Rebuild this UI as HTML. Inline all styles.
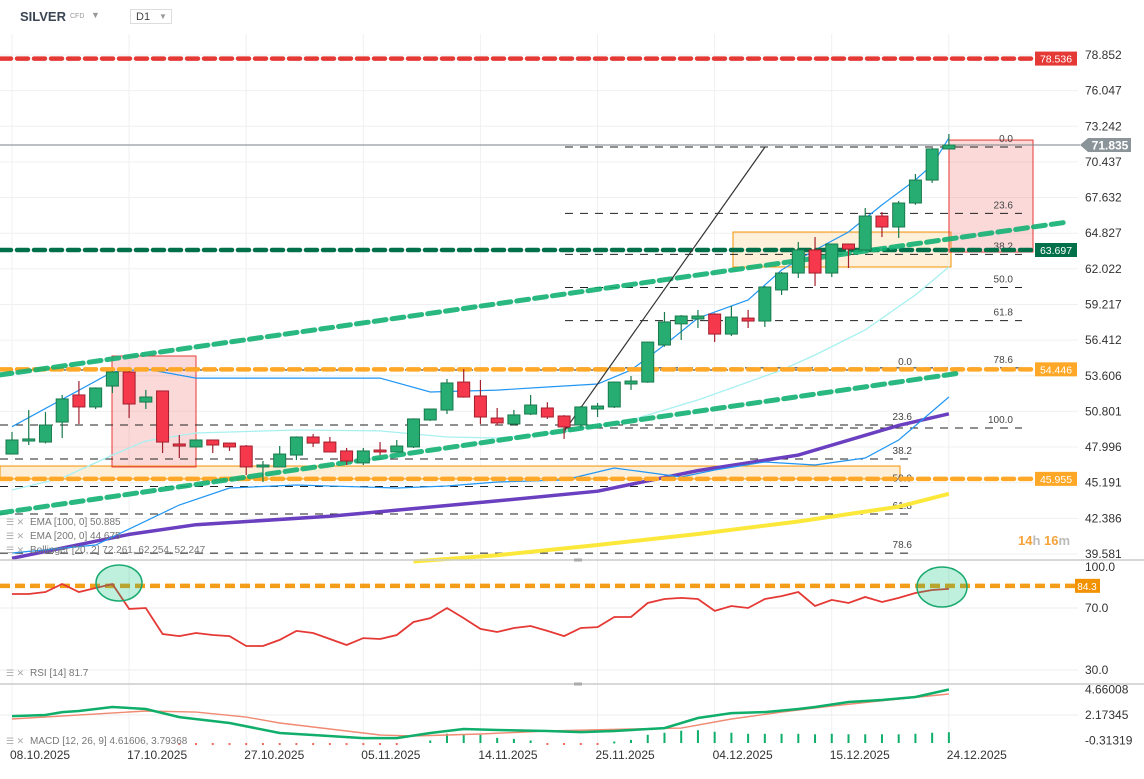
<!DOCTYPE html>
<html><head><meta charset="utf-8">
<style>
html,body{margin:0;padding:0;background:#fff;width:1144px;height:779px;overflow:hidden;font-family:"Liberation Sans",sans-serif}
#hdr{position:absolute;left:0;top:0;width:1144px;height:34px}
svg{position:absolute;left:0;top:0}
</style></head><body>
<div id="hdr">
 <span style="position:absolute;left:20px;top:9px;font-size:13px;font-weight:bold;color:#3a4653">SILVER</span>
 <span style="position:absolute;left:70px;top:13px;font-size:7px;color:#999">CFD</span>
 <span style="position:absolute;left:91px;top:10px;font-size:9px;color:#999">▼</span>
 <div style="position:absolute;left:130px;top:9px;width:42px;height:15px;border:1px solid #ddd;font-size:11px;color:#444;box-sizing:border-box;padding:1px 0 0 5px">D1<span style="position:absolute;left:28px;top:2px;font-size:8px;color:#999">▼</span></div>
</div>
<svg id="chart" width="1144" height="779"></svg>
<script>
// ---- data ----
const dates = ["08.10.2025","17.10.2025","27.10.2025","05.11.2025","14.11.2025","25.11.2025","04.12.2025","15.12.2025","24.12.2025"];
const priceTicks = [78.852,76.047,73.242,70.437,67.632,64.827,62.022,59.217,56.412,53.606,50.801,47.996,45.191,42.386,39.581];
const opens  = [47.88,48.89,48.81,50.36,52.46,51.53,53.15,54.24,51.91,52.77,48.66,48.43,48.97,48.73,48.50,46.88,46.88,47.80,49.20,48.81,48.12,47.19,48.19,48.04,48.43,50.52,51.29,53.46,52.38,50.67,50.21,50.98,51.45,50.83,50.13,51.37,51.53,53.31,53.46,56.33,57.97,58.35,58.73,57.18,58.42,58.19,60.60,61.91,63.70,61.91,64.16,63.70,66.33,65.48,67.34,69.12,71.53];
const highs  = [49.59,51.29,51.14,52.46,53.54,53.05,54.30,54.30,52.85,52.80,49.35,49.00,49.00,48.75,48.58,47.34,48.50,49.25,49.43,49.20,48.35,48.35,48.81,48.97,50.65,51.40,53.70,54.47,53.62,51.45,51.30,52.46,51.90,50.90,51.60,51.84,53.50,53.93,56.60,58.89,58.65,59.05,58.80,59.36,59.05,60.90,62.00,64.32,64.70,64.20,64.20,66.95,66.64,67.50,69.59,71.60,72.69];
const lows   = [47.85,48.58,48.70,49.12,50.21,51.37,52.61,50.67,51.37,47.96,47.57,48.40,47.96,48.12,46.25,45.71,46.85,47.42,48.43,48.00,47.03,47.03,47.80,48.00,48.35,50.45,50.98,52.25,50.21,50.10,50.10,50.90,50.60,49.05,50.00,50.75,51.45,52.85,53.40,56.20,56.72,57.65,56.56,57.03,57.65,57.73,60.21,61.53,60.91,61.60,62.30,63.65,64.70,64.63,67.20,68.90,71.50];
const closes = [48.97,49.05,50.13,52.15,51.53,53.00,54.24,51.76,52.30,48.81,48.50,48.97,48.58,48.43,46.88,47.03,47.88,49.20,48.73,48.04,47.34,48.12,48.04,48.50,50.60,51.37,53.39,52.30,50.75,50.29,50.91,51.68,50.75,49.98,51.53,51.60,53.46,53.54,56.56,58.12,58.58,58.58,57.18,58.50,58.19,60.83,61.91,63.70,61.91,64.16,63.77,66.33,65.48,67.34,69.12,71.53,71.835];
const bbUpIdx = [0,6,8,11,22,25,29,32,35,37,39,41,44,46,48,50,52,54,55,56];
const bbUpVal = [50.0,54.24,54.47,53.77,53.77,52.69,52.84,53.08,53.31,54.39,56.33,58.42,59.82,62.15,63.70,65.09,67.19,69.12,70.29,72.38];
const bbMidIdx = [0,3,6,8,11,17,22,26,29,33,37,41,46,48,51,54,56];
const bbMidVal = [45.09,46.02,47.80,48.89,49.51,49.74,49.67,49.20,49.12,49.59,50.52,52.07,54.39,55.56,57.50,60.21,62.38];
const bbLoIdx = [0,5,10,13,17,23,26,29,33,36,40,42,45,48,51,53,56];
const bbLoVal = [40.21,40.83,43.93,45.25,45.48,45.25,45.40,45.71,45.87,46.80,46.10,46.64,47.26,47.03,47.57,48.97,52.30];
const ema100Idx = [0,7,11,19,29,35,41,47,53,56];
const ema100Val = [39.80,41.65,42.40,43.05,44.25,45.00,46.60,47.80,50.10,51.00];
const ema200Idx = [24,29,35,41,47,53,56];
const ema200Val = [39.55,40.04,40.83,41.68,42.65,43.80,44.80];
const rsiVals = [79.0,79.0,80.3,85.5,80.3,82.9,85.5,69.4,70.0,53.2,51.9,53.9,52.6,51.9,45.5,45.5,49.4,55.2,53.9,50.0,46.1,50.6,50.0,52.6,61.0,63.5,70.0,63.5,56.5,54.5,57.1,58.4,55.2,51.9,57.1,57.7,64.2,64.2,73.2,75.8,76.5,75.8,68.1,71.3,70.0,75.8,77.7,80.3,71.3,75.2,73.2,77.1,73.9,76.5,79.7,81.6,82.3];
const rsiTicks = [100.0,70.0,30.0];
const macdIdx = [0,2,3,4,6,8,10,13,16,18,21,23,25,27,29,32,34,36,39,41,43,45,47,48,50,52,54,56];
const macdVal = [2.07,2.17,2.46,2.56,2.95,2.76,1.97,1.39,0.42,0.22,-0.08,-0.08,0.42,0.81,0.71,0.61,0.51,0.61,0.90,1.88,2.36,2.46,2.76,2.95,3.44,3.64,3.93,4.66];
const sigIdx = [0,8,11,14,16,19,22,24,28,32,37,40,43,46,49,53,56];
const sigVal = [1.78,2.56,2.46,1.97,1.39,0.81,0.22,0.12,0.32,0.61,0.81,0.90,1.78,2.46,3.05,3.73,4.22];
const histVals = [0,0,0,0,0,0,0,0,0,0,-0.2,-0.2,-0.2,-0.2,-0.2,-0.2,-0.2,-0.2,-0.2,-0.2,-0.2,-0.2,-0.2,-0.2,0,0.25,0.9,0.8,0.8,0.5,0.4,0.25,-0.1,-0.1,-0.1,-0.1,0.15,0.3,0.8,1.0,1.2,1.25,1.1,1.0,0.9,0.9,0.9,0.9,0.85,0.9,0.85,0.85,0.85,0.85,0.9,1.0,1.05];
const macdTicks = [4.66008,2.17345,-0.31319];
const hLevels = [78.536,63.697,54.446,45.955];
const fibRatios = [0.0,23.6,38.2,50.0,61.8,78.6,100.0];

// ---- scales ----
const X = i => 12 + i*16.73;
const Y = p => 54.5 + (78.852 - p)*12.9;
const YT = p => 55 + (78.852 - p)/2.805*35.64;
const YR = v => 608 + (70 - v)*1.55;
const YM = v => 715 - (v - 2.17345)*10.25;
const HB = 743;
const svg = document.getElementById('chart');
const NS = 'http://www.w3.org/2000/svg';
function mk(tag, attrs, parent){const e=document.createElementNS(NS,tag);for(const k in attrs)e.setAttribute(k,attrs[k]);(parent||svg).appendChild(e);return e;}
function txt(x,y,s,attrs){const e=mk('text',Object.assign({x:x,y:y,'font-family':'Liberation Sans, sans-serif'},attrs));e.textContent=s;return e;}
function poly(idx,vals,f){return idx.map((i,k)=>X(i).toFixed(1)+','+f(vals[k]).toFixed(1)).join(' ');}

// gridlines
priceTicks.forEach(p=>{const g=mk('line',{x1:0,x2:1078,y1:YT(p),y2:YT(p),stroke:'#f0f0f0'});

});
dates.forEach((d,k)=>{const gx=12+117.1*k;const g=mk('line',{x1:gx,x2:gx,y1:34,y2:752,stroke:'#f0f0f0'});

});
[608,670,715].forEach(v=>mk('line',{x1:0,x2:1078,y1:v,y2:v,stroke:'#eee'}));

// zone boxes
let b;
b=mk('rect',{x:0,y:Y(46.95),width:900,height:Y(45.95)-Y(46.95),fill:'#ffeed6',stroke:'#f39200','stroke-width':1});


b=mk('rect',{x:733,y:Y(65.09),width:218,height:Y(62.38)-Y(65.09),fill:'rgba(255,225,180,0.5)',stroke:'#f39200','stroke-width':1});


b=mk('rect',{x:112,y:Y(55.48),width:84,height:Y(46.88)-Y(55.48),fill:'rgba(240,120,120,0.28)',stroke:'#e53935','stroke-width':1});


b=mk('rect',{x:949,y:Y(72.22),width:84,height:Y(63.54)-Y(72.22),fill:'rgba(240,120,120,0.28)',stroke:'#e53935','stroke-width':1});



// fib sets
const fib1Top=71.68, fib1Range=21.78, fib2Top=54.39, fib2Range=18.05;
fibRatios.forEach(r=>{const p=fib1Top-r/100*fib1Range;const l=mk('line',{x1:565,x2:1022,y1:Y(p),y2:Y(p),stroke:'#222','stroke-dasharray':'8,7','stroke-width':1});


const t=txt(1013,Y(p)-5,r.toFixed(1),{'font-size':10,fill:'#444','text-anchor':'end'});

});
fibRatios.slice(0,6).forEach(r=>{const p=fib2Top-r/100*fib2Range;const l=mk('line',{x1:0,x2:915,y1:Y(p),y2:Y(p),stroke:'#222','stroke-dasharray':'8,7','stroke-width':1});


const t=txt(912,Y(p)-5,r.toFixed(1),{'font-size':10,fill:'#444','text-anchor':'end'});

});

// indicator lines
let L;
L=mk('polyline',{points:poly(ema200Idx,ema200Val,Y),fill:'none',stroke:'#fbe83a','stroke-width':4});


L=mk('polyline',{points:poly(ema100Idx,ema100Val,Y),fill:'none',stroke:'#6a3fc0','stroke-width':3.5});


L=mk('polyline',{points:poly(bbMidIdx,bbMidVal,Y),fill:'none',stroke:'#a8f0f0','stroke-width':1.3});


L=mk('polyline',{points:poly(bbUpIdx,bbUpVal,Y),fill:'none',stroke:'#2196f3','stroke-width':1.2});


L=mk('polyline',{points:poly(bbLoIdx,bbLoVal,Y),fill:'none',stroke:'#2196f3','stroke-width':1.2});



// horizontal level lines
const hColors=['#e53935','#00704a','#ffa726','#ffa726'];
hLevels.forEach((p,k)=>{const l=mk('line',{x1:0,x2:1035,y1:Y(p),y2:Y(p),stroke:hColors[k],'stroke-width':4.5,'stroke-dasharray':'11,6','stroke-linecap':'round'});


const r=mk('rect',{x:1035,y:Y(p)-7,width:42,height:14,fill:hColors[k]});


const t=txt(1056,Y(p)+4,p.toFixed(3),{'font-size':10.5,fill:'#fff','text-anchor':'middle'});

});

// channel lines
L=mk('line',{x1:0,y1:Y(54.01),x2:1068,y2:Y(65.87),stroke:'#13b073','stroke-width':5,'stroke-dasharray':'12,6','stroke-linecap':'round','stroke-opacity':0.9});


L=mk('line',{x1:0,y1:Y(43.31),x2:960,y2:Y(54.16),stroke:'#13b073','stroke-width':5,'stroke-dasharray':'12,6','stroke-linecap':'round','stroke-opacity':0.9});


L=mk('line',{x1:565,y1:Y(49.74),x2:765,y2:Y(71.68),stroke:'#333','stroke-width':1.2});



// current price line
L=mk('line',{x1:0,x2:1080,y1:Y(71.835),y2:Y(71.835),stroke:'#7a8288','stroke-width':1});


L=mk('polygon',{points:`1080,${Y(71.835)} 1088,${Y(71.835)-7} 1131,${Y(71.835)-7} 1131,${Y(71.835)+7} 1088,${Y(71.835)+7}`,fill:'#8a9499'});


L=txt(1110,Y(71.835)+4.5,'71.835',{'font-size':12,fill:'#fff','text-anchor':'middle','font-weight':'bold'});



// candles
closes.forEach((c,i)=>{const o=opens[i],up=c>=o,cx=X(i);
const fill=up?'#27ad72':'#f5384b',st=up?'#197a4d':'#a3202e';
const w=mk('line',{x1:cx,x2:cx,y1:Y(highs[i]),y2:Y(lows[i]),stroke:st,'stroke-width':1.2});


const top=Y(Math.max(o,c)),h=Math.max(1.5,Math.abs(Y(o)-Y(c)));
const r=mk('rect',{x:cx-6,y:top,width:12,height:h,fill:fill,stroke:st,'stroke-width':1});

});

// price axis labels
priceTicks.forEach(p=>{const t=txt(1085,YT(p)+4,p.toFixed(3),{'font-size':12,fill:'#333'});

});
L=txt(1018,545,'',{'font-size':13,'font-weight':'bold',fill:'#f7a23a'});
L.innerHTML='14<tspan fill="#bbb">h</tspan> 16<tspan fill="#bbb">m</tspan>';



// legend
[['EMA [100, 0] 50.885',525],['EMA [200, 0] 44.675',539],['Bollinger [20, 2] 72.261, 62.254, 52.247',553]].forEach(a=>{
const g=txt(30,a[1],a[0],{'font-size':10,fill:'#777'});


const ic=txt(6,a[1],'☰ ✕',{'font-size':9,fill:'#aaa'});

});

// panel separators
[560,684].forEach(v=>{const l=mk('line',{x1:0,x2:1144,y1:v,y2:v,stroke:'#ccc','stroke-width':1.5});


mk('rect',{x:574,y:v-1.5,width:8,height:3,fill:'#aaa'});});

// RSI panel
L=mk('line',{x1:0,x2:1075,y1:YR(84.3),y2:YR(84.3),stroke:'#f39200','stroke-width':4.5,'stroke-dasharray':'10,5','stroke-opacity':0.9});


L=mk('rect',{x:1075,y:YR(84.3)-7,width:25,height:14,fill:'#f39200'});


L=txt(1087,YR(84.3)+4,'84.3',{'font-size':10,fill:'#fff','text-anchor':'middle'});


L=mk('polyline',{points:rsiVals.map((v,i)=>X(i).toFixed(1)+','+YR(v).toFixed(1)).join(' '),fill:'none',stroke:'#e53935','stroke-width':1.8});


L=mk('ellipse',{cx:119,cy:583,rx:23,ry:18,fill:'rgba(0,190,120,0.25)',stroke:'#1aaa70','stroke-width':1.5});


L=mk('ellipse',{cx:942,cy:587,rx:25,ry:20,fill:'rgba(0,190,120,0.25)',stroke:'#1aaa70','stroke-width':1.5});


rsiTicks.forEach(v=>{const yy=v===100?567:YR(v);const t=txt(1085,yy+4,v.toFixed(1),{'font-size':12,fill:'#333'});

});
txt(6,676,'☰ ✕',{'font-size':9,fill:'#aaa'});
L=txt(30,676,'RSI [14] 81.7',{'font-size':10,fill:'#777'});



// MACD panel
histVals.forEach((v,i)=>{if(!v)return;const h=Math.abs(v)*10.25;
const r=mk('rect',{x:X(i)-1,y:v>0?HB-h:HB,width:2,height:Math.max(2,h),fill:v>0?'#0fae6a':'#f26b5b'});

});
L=mk('polyline',{points:poly(sigIdx,sigVal,YM),fill:'none',stroke:'#f08a72','stroke-width':1.4});


L=mk('polyline',{points:poly(macdIdx,macdVal,YM),fill:'none',stroke:'#0fae6a','stroke-width':2.5});


macdTicks.forEach(v=>{const t=txt(1085,YM(v)+4,v.toFixed(5),{'font-size':12,fill:'#333'});

});
txt(6,744,'☰ ✕',{'font-size':9,fill:'#aaa'});
L=txt(30,744,'MACD [12, 26, 9] 4.61606, 3.79368',{'font-size':10,fill:'#777'});



// date axis
dates.forEach((d,k)=>{const t=txt(10+117.1*k,759,d,{'font-size':12,fill:'#333'});

});
</script>
</body></html>
